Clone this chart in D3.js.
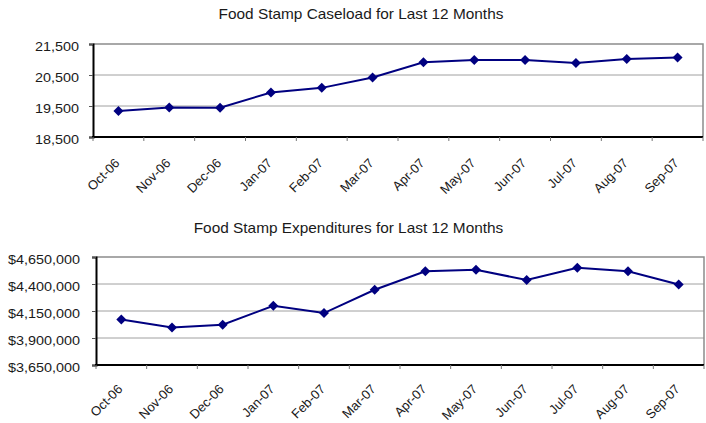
<!DOCTYPE html>
<html>
<head>
<meta charset="utf-8">
<script src="https://cdn.jsdelivr.net/npm/d3@7/dist/d3.min.js"></script>
<style>
  html, body { margin: 0; padding: 0; background: #ffffff; }
  svg { display: block; }
  text { font-family: "Liberation Sans", Arial, sans-serif; fill: #1a1a1a; }
</style>
</head>
<body>
<svg id="chart" width="706" height="423"></svg>
<script>
// ---- data ----
const months = ["Oct-06","Nov-06","Dec-06","Jan-07","Feb-07","Mar-07","Apr-07","May-07","Jun-07","Jul-07","Aug-07","Sep-07"];
const caseload = [19340, 19455, 19445, 19937, 20085, 20420, 20912, 20986, 20985, 20889, 21018, 21063];
const expenditures = [4072000, 3998000, 4023000, 4199000, 4131000, 4347000, 4517000, 4532000, 4437000, 4551000, 4517000, 4396000];
const caseloadTicks = [18500, 19500, 20500, 21500];
const expenditureTicks = [3650000, 3900000, 4150000, 4400000, 4650000];
const title1 = "Food Stamp Caseload for Last 12 Months";
const title2 = "Food Stamp Expenditures for Last 12 Months";

const svg = d3.select("#chart");

function drawPanel(cfg) {
  const { left, right, top, bottom, values, ticks, fmt, title, titleX, titleY, labelGap, xLabelOffset } = cfg;
  const g = svg.append("g");

  const x = d3.scaleBand().domain(months).range([left, right]).padding(0);
  const y = d3.scaleLinear().domain([ticks[0], ticks[ticks.length - 1]]).range([bottom, top]);

  // title
  g.append("text")
    .attr("transform", `translate(${titleX},${titleY}) scale(1.1,1)`)
    .attr("text-anchor", "middle")
    .style("font-size", "14px")
    .text(title);

  // gridlines
  g.selectAll("line.grid").data(ticks.slice(1, -1)).join("line")
    .attr("x1", left).attr("x2", right)
    .attr("y1", d => y(d)).attr("y2", d => y(d))
    .attr("stroke", "#a0a0a0").attr("stroke-width", 1);

  // top & right border (gray)
  g.append("path")
    .attr("d", `M${left},${top}H${right}V${bottom}`)
    .attr("fill", "none").attr("stroke", "#8c8c8c").attr("stroke-width", 1.5);

  // y axis
  const yAxis = d3.axisLeft(y).tickValues(ticks).tickSize(4).tickPadding(0).tickFormat(fmt);
  const ya = g.append("g").attr("transform", `translate(${left},0)`).call(yAxis);
  ya.select(".domain").attr("stroke", "#000").attr("stroke-width", 2);
  ya.selectAll(".tick line").attr("stroke", "#555").attr("stroke-width", 1);
  ya.selectAll(".tick text")
    .attr("x", null).attr("dy", null)
    .attr("transform", `translate(${-labelGap},6) scale(1.2,1)`)
    .style("font-size", "12px")
    .style("font-family", '"Liberation Sans", Arial, sans-serif')
    .attr("fill", "#1a1a1a");

  // x axis baseline
  g.append("line")
    .attr("x1", left - 1).attr("x2", right)
    .attr("y1", bottom).attr("y2", bottom)
    .attr("stroke", "#000").attr("stroke-width", 2);

  // x ticks at category boundaries
  const bounds = months.map(m => x(m)).concat([x.range()[1]]);
  g.selectAll("line.xt").data(bounds).join("line")
    .attr("x1", d => d).attr("x2", d => d)
    .attr("y1", bottom).attr("y2", bottom + 4)
    .attr("stroke", "#777").attr("stroke-width", 1);

  // x labels
  g.selectAll("text.xl").data(months).join("text")
    .attr("text-anchor", "end")
    .attr("transform", d => `translate(${x(d) + x.bandwidth() / 2 + 2},${bottom + xLabelOffset}) rotate(-45)`)
    .style("font-size", "13px")
    .text(d => d);

  // line
  const line = d3.line()
    .x((d, i) => x(months[i]) + x.bandwidth() / 2)
    .y(d => y(d));
  g.append("path").datum(values)
    .attr("d", line)
    .attr("fill", "none").attr("stroke", "#000080").attr("stroke-width", 2);

  // diamond markers
  const sym = d3.symbol().type(d3.symbolSquare).size(50);
  g.selectAll("path.mk").data(values).join("path")
    .attr("d", sym)
    .attr("transform", (d, i) => `translate(${x(months[i]) + x.bandwidth() / 2},${y(d)}) rotate(45)`)
    .attr("fill", "#000080");
}

drawPanel({
  left: 93, right: 703, top: 44, bottom: 137,
  values: caseload, ticks: caseloadTicks,
  fmt: d3.format(","),
  title: title1, titleX: 361, titleY: 18.5, labelGap: 14, xLabelOffset: 27
});

drawPanel({
  left: 96, right: 704, top: 257, bottom: 365,
  values: expenditures, ticks: expenditureTicks,
  fmt: d => "$" + d3.format(",")(d),
  title: title2, titleX: 348.5, titleY: 232.5, labelGap: 16, xLabelOffset: 25
});
</script>
</body>
</html>
